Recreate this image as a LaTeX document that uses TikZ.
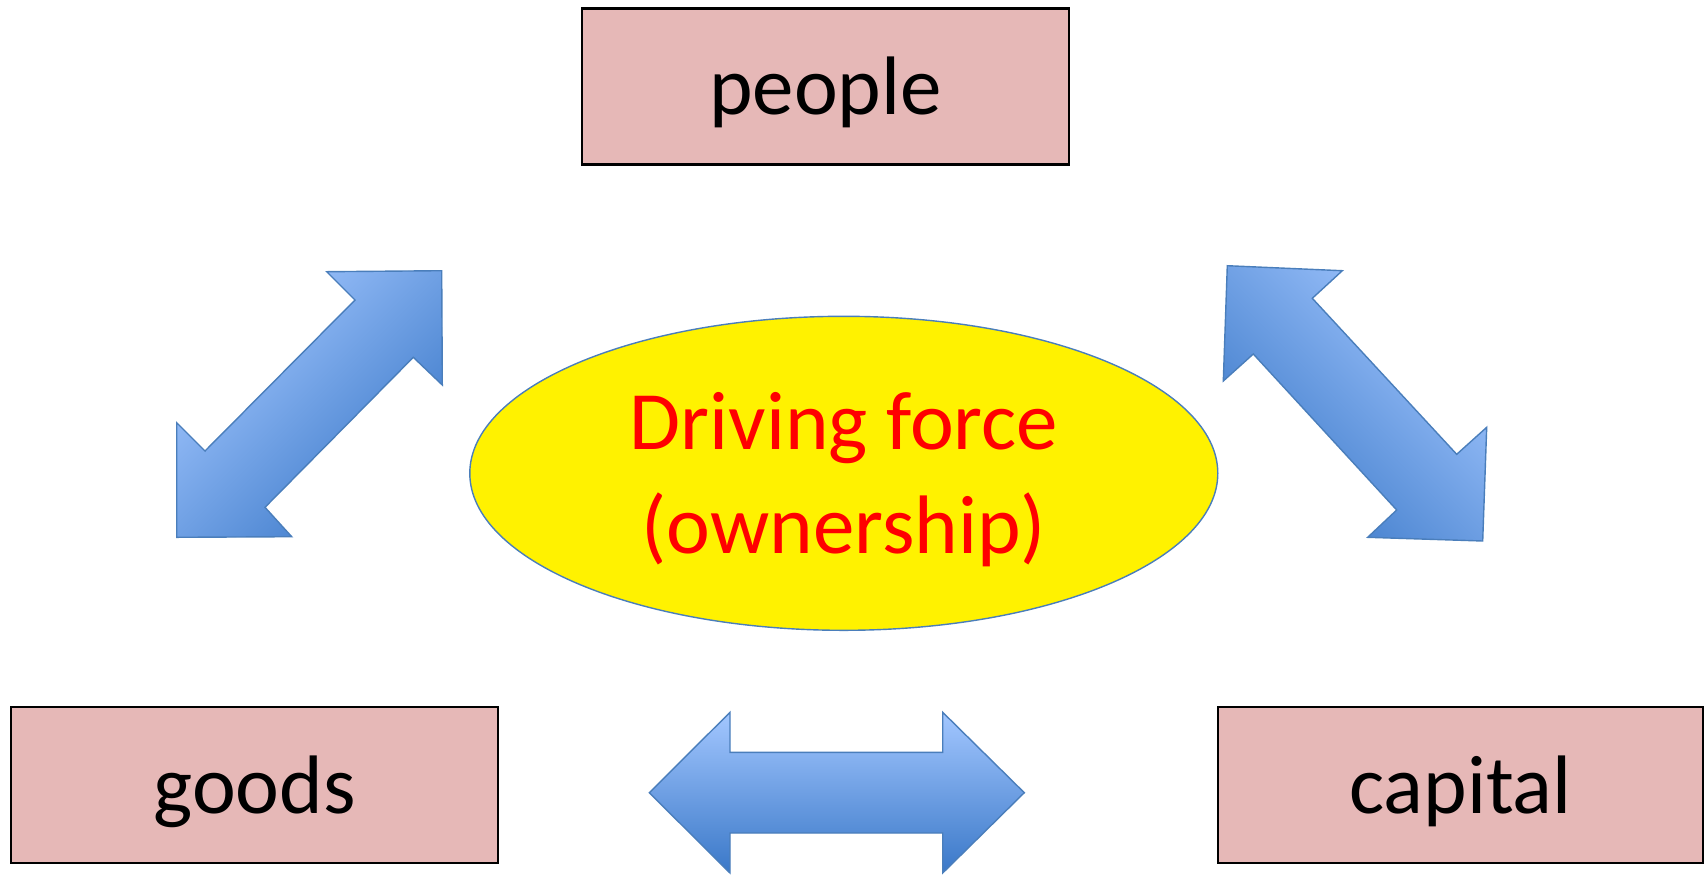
\documentclass[tikz,border=0pt]{standalone}
\usepackage{fontspec}
\setmainfont{Carlito}
\usetikzlibrary{shapes.geometric}

\definecolor{boxpink}{RGB}{230,184,183}
\definecolor{arrowlight}{RGB}{163,199,255}
\definecolor{arrowdark}{RGB}{58,120,200}
\definecolor{arrowline}{RGB}{74,126,187}

\begin{document}
\begin{tikzpicture}[x=0.5pt,y=-0.5pt,
    font=\fontsize{41.5}{52}\selectfont]
  \tikzstyle{nodeB}=[rectangle,draw=black,line width=1.3pt,fill=boxpink,
    minimum width=243.5pt,minimum height=78pt,inner sep=0pt,
    text height=32pt,text depth=4pt]
  \tikzstyle{nodeE}=[ellipse,draw=arrowline,line width=0.7pt,fill=yellow,
    minimum width=374pt,minimum height=157pt,inner sep=0pt,text=red,
    align=center,text depth=0pt]
  \tikzstyle{arrowD}=[draw=arrowline,line width=0.7pt,line join=miter,
    top color=arrowlight,bottom color=arrowdark]

  \useasboundingbox (0,0) rectangle (1704,874);

  \node[nodeB] (people)  at (825.5,86.2) {people};
  \node[nodeB] (goods)   at (254.5,785)  {goods};
  \node[nodeB, minimum width=242.5pt] (capital) at (1460.5,785) {capital};
  \node[nodeE] (drive)   at (843.8,473.3) {Driving force\\(ownership)};

  % people <-> goods
  \path[arrowD, shading angle=45] (326.7,271.7) -- (441.7,270.7) -- (442.3,385)
    -- (413.3,357.3) -- (265,507.3) -- (291.7,536.7) -- (176.7,537.3)
    -- (176.7,422.7) -- (205,451) -- (355,300) -- cycle;
  % people <-> capital
  \path[arrowD, shading angle=-45] (1227.3,265.7) -- (1342.3,270.7) -- (1312.3,298.3)
    -- (1456.7,454.3) -- (1486.7,427.3) -- (1482.7,541) -- (1367.7,537.3)
    -- (1396.7,510) -- (1253.3,354) -- (1223.3,381) -- cycle;
  % goods <-> capital
  \path[arrowD] (649.3,792.7) -- (730,712.3) -- (730,752.3) -- (942.7,752.3)
    -- (942.7,712.3) -- (1024.3,792.7) -- (942.7,873) -- (942.7,833)
    -- (730,833) -- (730,873) -- cycle;
\end{tikzpicture}
\end{document}
